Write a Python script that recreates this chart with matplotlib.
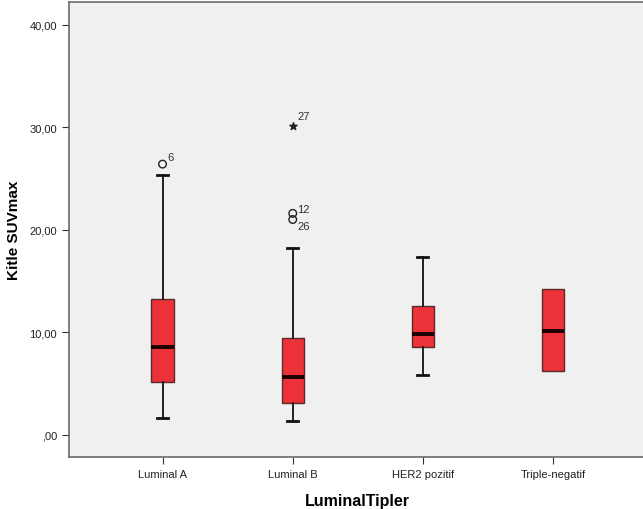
import matplotlib
matplotlib.use("Agg")
import matplotlib.pyplot as plt
import numpy as np

plt.rcParams['font.family'] = ['Liberation Sans', 'DejaVu Sans']

# box statistics
groups = ['Luminal A', 'Luminal B', 'HER2 pozitif', 'Triple-negatif']
whis_lo = [1.66, 1.34, 5.8, 6.19]
q1 = [5.15, 3.1, 8.53, 6.19]
med = [8.6, 5.67, 9.84, 10.16]
q3 = [13.3, 9.45, 12.57, 14.2]
whis_hi = [25.34, 18.2, 17.3, 14.2]

# outliers (o) and extremes (*), with case numbers
out_group = [0, 1, 1]
out_val = [26.4, 21.6, 21.0]
out_case = ['6', '12', '26']
ext_group = [1]
ext_val = [30.1]
ext_case = ['27']

fig = plt.figure(figsize=(6.43, 5.10), dpi=100)
ax = fig.add_axes([0.107, 0.102, 0.899, 0.892])
ax.set_facecolor('#f0f0f0')

stats = []
for i in range(len(groups)):
    stats.append(dict(med=med[i], q1=q1[i], q3=q3[i],
                      whislo=whis_lo[i], whishi=whis_hi[i], fliers=[]))

pos = np.arange(len(groups))
# no caps where the whisker ends on the box edge
caps = [0.0 if (whis_lo[i] == q1[i] and whis_hi[i] == q3[i]) else 0.085
        for i in range(len(groups))]
ax.bxp(stats, positions=pos, widths=0.17, patch_artist=True,
       showfliers=False,
       boxprops=dict(facecolor='#ec3139', edgecolor='#5a2a2a', linewidth=1.0),
       medianprops=dict(color='#1a0000', linewidth=2.8),
       whiskerprops=dict(color='#111111', linewidth=1.3),
       capprops=dict(color='#111111', linewidth=2.0),
       capwidths=caps)

ax.scatter(pos[out_group], out_val, s=30, facecolors='none',
           edgecolors='#222222', linewidths=1.0, zorder=5)
ax.scatter(pos[ext_group], ext_val, s=30, marker='*', color='#222222',
           zorder=5)
offsets = {'6': 0.7, '12': 0.4, '26': -0.6, '27': 1.0}
for g, v, c in zip(out_group + ext_group, out_val + ext_val,
                   out_case + ext_case):
    ax.text(pos[g] + 0.035, v + offsets[c], c, fontsize=8, color='#333333',
            ha='left', va='center')

ax.set_xlim(-0.72, 3.72)
ax.set_ylim(-2.15, 42.2)
ax.set_yticks([0, 10, 20, 30, 40])
ax.set_yticklabels([',00', '10,00', '20,00', '30,00', '40,00'])
ax.set_xticks(pos)
ax.set_xticklabels(groups)
ax.tick_params(axis='both', labelsize=8, color='#333333', length=5,
               labelcolor='#222222')
for s in ax.spines.values():
    s.set_color('#6a6a6a')
    s.set_linewidth(1.2)

ax.set_ylabel('Kitle SUVmax', fontsize=11, fontweight='bold', labelpad=6)
ax.set_xlabel('LuminalTipler', fontsize=11.5, fontweight='bold', labelpad=10)

fig.savefig('out.png', dpi=100)
